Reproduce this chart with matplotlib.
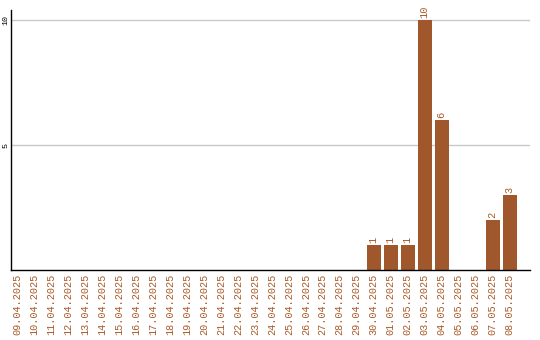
import matplotlib
matplotlib.use('Agg')
from matplotlib import pyplot as plt
import numpy as np

dates = ['09.04.2025', '10.04.2025', '11.04.2025', '12.04.2025', '13.04.2025',
         '14.04.2025', '15.04.2025', '16.04.2025', '17.04.2025', '18.04.2025',
         '19.04.2025', '20.04.2025', '21.04.2025', '22.04.2025', '23.04.2025',
         '24.04.2025', '25.04.2025', '26.04.2025', '27.04.2025', '28.04.2025',
         '29.04.2025', '30.04.2025', '01.05.2025', '02.05.2025', '03.05.2025',
         '04.05.2025', '05.05.2025', '06.05.2025', '07.05.2025', '08.05.2025']
counts = [0] * 21 + [1, 1, 1, 10, 6, 0, 0, 2, 3]
yticks = [5, 10]

bar_color = '#a0572b'
label_color = '#a85a28'

plt.rcParams['font.family'] = ['Liberation Mono', 'DejaVu Sans Mono']

fig = plt.figure(figsize=(5.4, 3.4), dpi=100)
ax = fig.add_axes([11/540, 70/340, 519/540, 260/340])
x = np.arange(len(dates))
ax.bar(x, counts, width=0.82, color=bar_color, zorder=2)

for xi, v in zip(x, counts):
    if v > 0:
        ax.text(xi, v + 0.08, str(v), rotation=90, ha='center', va='bottom',
                color=label_color, fontsize=7.5)

ax.set_xlim(-0.35, 30.2)
ax.set_ylim(0, 10.4)
ax.set_xticks(x)
ax.set_xticklabels(dates, rotation=90, color=label_color, fontsize=7.3)
ax.set_yticks(yticks)
ax.set_yticklabels([str(t) for t in yticks], rotation=90, fontsize=6, va='center')
ax.tick_params(axis='x', length=0, pad=3)
ax.tick_params(axis='y', length=0, pad=1)
ax.grid(axis='y', color='#c8c8c8', linewidth=1, zorder=0)
ax.spines['top'].set_visible(False)
ax.spines['right'].set_visible(False)
ax.spines['left'].set_linewidth(1)
ax.spines['bottom'].set_linewidth(1)

plt.savefig('out.png', dpi=100)
